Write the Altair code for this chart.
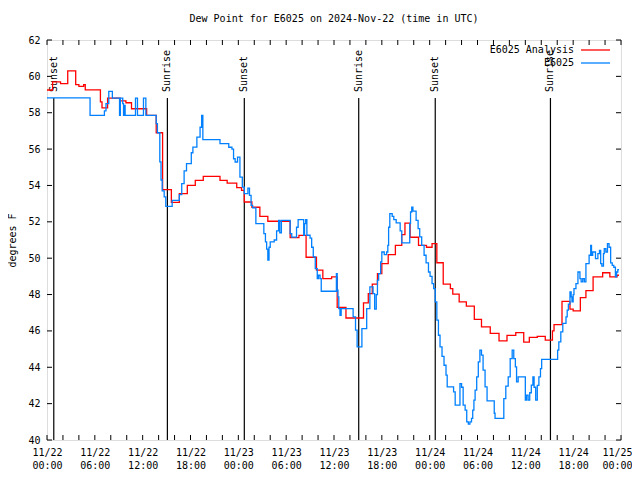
import altair as alt
import pandas as pd

TITLE = "Dew Point for E6025 on 2024-Nov-22 (time in UTC)"
Y_TITLE = "degrees F"
SERIES_NAMES = ["E6025 Analysis", "E6025"]
SERIES_COLORS = ["#ff0000", "#0080ff"]
FONT = "DejaVu Sans Mono"

# Analysis (red), step-after: hours since 2024-11-22 00:00 UTC, degrees F
analysis_hours = [0.0, 0.7, 1.7, 2.6, 3.6, 4.0, 4.6, 4.8, 6.7, 6.9, 7.6, 9.2, 9.9, 10.6,
                  12.5, 13.7, 14.5, 15.6, 16.6, 17.6, 18.6, 19.6, 21.7, 22.6, 23.8, 24.4,
                  24.75, 25.7, 26.7, 27.7, 30.5, 31.6, 32.5, 33.8, 34.6, 35.7, 36.4, 37.5,
                  39.7, 40.3, 40.8, 41.45, 42.0, 42.8, 43.7, 44.5, 44.9, 45.55, 46.6, 47.6,
                  48.3, 48.9, 49.7, 50.6, 50.9, 51.7, 52.6, 53.6, 54.5, 55.6, 56.7, 57.7,
                  58.8, 59.8, 60.5, 61.5, 62.5, 63.4, 63.6, 64.6, 65.6, 66.0, 66.9, 67.6,
                  68.5, 69.7, 70.6, 71.5, 71.75]
analysis_values = [59.25, 59.7, 59.6, 60.3, 59.55, 59.45, 59.55, 59.26, 58.6, 58.27, 58.8, 58.65, 58.55, 58.22,
                   57.85, 56.9, 53.77, 53.07, 53.55, 54.0, 54.28, 54.5, 54.28, 54.13, 53.88, 53.73,
                   53.09, 52.8, 52.3, 52.03, 51.13, 51.25, 50.05, 49.34, 48.88, 48.97, 47.29, 46.71,
                   47.54, 48.05, 48.57, 49.15, 49.7, 50.2, 50.7, 51.3, 51.93, 51.15, 50.7, 50.6,
                   50.8, 49.75, 48.57, 48.33, 48.02, 47.6, 47.36, 46.63, 46.22, 45.86, 45.45, 45.75,
                   45.91, 45.38, 45.64, 45.7, 45.49, 46.0, 46.35, 47.62, 47.2, 47.1, 47.83, 48.22,
                   48.97, 49.2, 48.97, 49.06, 49.06]

# Observed (blue), step-after
obs_hours = [0.0, 5.4, 7.2, 7.4, 7.75, 8.2, 9.1, 9.2, 9.5, 9.6, 9.7, 9.8, 11.1, 11.35, 12.1,
             12.4, 13.7, 13.85, 14.15, 14.3, 14.45, 14.7, 14.9, 15.7, 16.6, 16.9, 17.2, 17.5,
             18.1, 18.3, 18.8, 19.2, 19.4, 19.55, 21.7, 22.8, 23.2, 23.4, 23.6, 23.9, 24.2,
             24.5, 24.75, 25.2, 25.4, 25.6, 25.8, 26.2, 27.2, 27.4, 27.55, 27.7, 27.85, 28.0,
             28.5, 28.8, 29.05, 29.2, 29.4, 30.5, 30.7, 31.3, 31.5, 32.2, 32.3, 32.45, 32.6,
             33.0, 33.2, 33.4, 33.65, 33.9, 34.05, 34.25, 34.4, 36.3, 36.4, 36.5, 36.6, 36.75,
             36.9, 38.4, 38.7, 38.9, 39.5, 40.1, 40.5, 40.9, 41.1, 41.3, 41.45, 41.6, 41.85,
             42.0, 42.3, 42.6, 42.75, 42.85, 43.0, 43.3, 43.5, 43.8, 44.3, 44.5, 45.5, 45.6,
             45.75, 45.9, 46.3, 46.55, 46.75, 47.0, 47.3, 47.55, 47.85, 48.05, 48.3, 48.5,
             48.7, 48.9, 49.1, 49.3, 49.55, 49.8, 50.05, 50.2, 51.0, 51.2, 51.8, 52.0, 52.2,
             52.45, 52.65, 52.85, 53.05, 53.25, 53.4, 53.55, 53.7, 53.9, 54.1, 54.3, 54.5,
             54.7, 54.95, 55.2, 56.1, 56.2, 57.3, 57.55, 57.85, 58.1, 58.35, 58.55, 58.75,
             58.9, 59.1, 60.0, 60.15, 60.35, 60.55, 60.75, 60.95, 61.1, 61.3, 61.5, 61.7,
             61.9, 62.05, 64.05, 64.2, 64.45, 64.7, 65.1, 65.25, 65.4, 65.6, 65.75, 65.85,
             66.0, 66.1, 66.35, 66.6, 66.85, 67.0, 67.2, 67.4, 67.6, 68.0, 68.2, 68.3, 68.45,
             68.8, 69.1, 69.3, 69.45, 69.6, 69.8, 69.9, 70.1, 70.3, 70.5, 70.7, 70.9, 71.1,
             71.3, 71.45, 71.6, 71.75]
obs_values = [58.82, 57.85, 58.1, 58.5, 59.17, 58.8, 57.85, 58.8, 58.5, 57.85, 58.4, 57.85, 58.8, 57.85, 58.8,
              57.85, 57.4, 56.9, 55.3, 54.3, 53.7, 53.37, 52.85, 53.18, 53.5, 54.1, 54.8, 55.2,
              55.8, 56.11, 56.66, 57.2, 57.85, 56.52, 56.3, 56.1, 56.0, 55.47, 55.29, 55.56, 54.46,
              53.91, 53.55, 53.85, 53.45, 52.9, 52.77, 51.9, 51.35, 50.9, 50.5, 49.9, 50.6, 50.9,
              51.0, 51.5, 52.08, 51.4, 52.08, 51.35, 51.16, 51.7, 52.12, 51.26, 51.9, 52.12, 51.26,
              51.1, 50.6, 50.07, 49.43, 48.88, 49.06, 48.88, 48.18, 49.15, 48.24, 47.87, 47.23, 46.86,
              47.23, 46.77, 46.04, 45.12, 46.13, 47.23, 48.42, 48.05, 47.2, 48.0, 48.79, 49.15, 49.79,
              50.34, 50.2, 50.34, 50.7, 51.7, 52.45, 52.3, 52.12, 51.94, 51.5, 50.84, 51.9, 52.54,
              52.8, 52.59, 52.08, 51.63, 51.17, 50.7, 50.16, 49.74, 49.24, 49.0, 48.6, 48.33,
              47.6, 46.59, 45.76, 45.12, 44.6, 44.11, 43.57, 42.92, 42.65, 41.92, 43.1, 42.9, 41.92,
              41.64, 41.0, 40.87, 41.0, 41.19, 41.64, 42.19, 42.74, 43.47, 44.3, 44.94, 44.67,
              43.84, 42.92, 42.15, 41.47, 41.19, 42.28, 42.96, 43.47, 44.48, 44.94, 44.48, 44.02,
              43.2, 43.47, 42.19, 42.47, 42.19, 42.6, 43.02, 43.47, 42.9, 42.19, 43.0, 43.47,
              43.93, 44.43, 44.94, 45.4, 45.95, 46.41, 46.77, 47.14, 47.47, 48.14, 47.87, 47.6,
              48.0, 48.33, 48.6, 49.24, 48.88, 48.7, 48.88, 48.7, 49.7, 50.16, 50.7, 50.16, 50.34,
              49.98, 50.25, 50.43, 49.7, 49.56, 50.25, 50.52, 50.34, 50.8, 50.6, 49.74, 49.6, 49.5,
              48.97, 49.24, 49.37, 49.37]

sun_hours = [0.85, 15.1, 24.75, 39.1, 48.7, 63.15]
sun_labels = ["Sunset", "Sunrise", "Sunset", "Sunrise", "Sunset", "Sunrise"]

y_tick_values = list(range(40, 63, 2))
x_label_hours = list(range(0, 73, 6))
x_tick_hours = list(range(0, 73, 2))

BASE_MS = 1732233600000  # 2024-11-22T00:00:00Z
HOUR_MS = 3600000


def to_ms(h):
    return int(round(BASE_MS + h * HOUR_MS))


W, H = 574, 400
TICK = 5

x_scale = alt.Scale(type="utc", domain=[to_ms(0), to_ms(72)], nice=False)
y_scale = alt.Scale(domain=[40, 62], nice=False, zero=False)

df_a = pd.DataFrame({"t": [to_ms(h) for h in analysis_hours], "v": analysis_values})
df_o = pd.DataFrame({"t": [to_ms(h) for h in obs_hours], "v": obs_values})
df_sun = pd.DataFrame({"t": [to_ms(h) for h in sun_hours], "label": sun_labels})
df_xt = pd.DataFrame({"t": [to_ms(h) for h in x_tick_hours]})
df_yt = pd.DataFrame({"v": y_tick_values})
df_leg = pd.DataFrame({"name": SERIES_NAMES, "color": SERIES_COLORS})

last_label = to_ms(x_label_hours[-1])
x_axis = alt.Axis(
    values=[to_ms(h) for h in x_label_hours],
    labelExpr="[utcFormat(datum.value, '%m/%d'), utcFormat(datum.value, '%H:%M')]",
    ticks=False, domain=False, grid=False, title=None,
    labelFont=FONT, labelFontSize=10, labelColor="black",
    labelPadding=7, labelLineHeight=13, labelOverlap=False, labelFlush=False,
    labelOffset={"condition": {"test": f"datum.value >= {last_label}", "value": -4}, "value": 0},
)
y_axis = alt.Axis(
    values=y_tick_values, ticks=False, domain=False, grid=False,
    title=Y_TITLE, titleFont=FONT, titleFontSize=10, titleFontWeight="normal",
    titleColor="black", titlePadding=10,
    labelFont=FONT, labelFontSize=10, labelColor="black", labelPadding=7,
)

X = alt.X("t:T", scale=x_scale, axis=x_axis)
Y = alt.Y("v:Q", scale=y_scale, axis=y_axis)

line_a = alt.Chart(df_a).mark_line(interpolate="step-after", color=SERIES_COLORS[0], strokeWidth=1.3).encode(
    x=X, y=Y)
line_o = alt.Chart(df_o).mark_line(interpolate="step-after", color=SERIES_COLORS[1], strokeWidth=1.3).encode(
    x=X, y=Y)

sun_rule = alt.Chart(df_sun).mark_rule(color="black", strokeWidth=1.2).encode(
    x=X, y=alt.value(58), y2=alt.value(H))
sun_text = alt.Chart(df_sun).mark_text(
    angle=270, align="left", baseline="middle", font=FONT, fontSize=10, color="black"
).encode(x=X, y=alt.value(52), text="label:N")

xt_bottom = alt.Chart(df_xt).mark_rule(color="black").encode(
    x=X, y=alt.value(H), y2=alt.value(H - TICK))
xt_top = alt.Chart(df_xt).mark_rule(color="black").encode(
    x=X, y=alt.value(0), y2=alt.value(TICK))
yt_left = alt.Chart(df_yt).mark_rule(color="black").encode(
    y=Y, x=alt.value(0), x2=alt.value(TICK))
yt_right = alt.Chart(df_yt).mark_rule(color="black").encode(
    y=Y, x=alt.value(W), x2=alt.value(W - TICK))

leg_layers = []
for i, (name, color) in enumerate(zip(SERIES_NAMES, SERIES_COLORS)):
    d = df_leg.iloc[[i]]
    yy = 10 + 13 * i
    leg_layers.append(alt.Chart(d).mark_text(
        align="right", baseline="middle", font=FONT, fontSize=10, color="black"
    ).encode(x=alt.value(527), y=alt.value(yy), text="name:N"))
    leg_layers.append(alt.Chart(d).mark_rule(color=color, strokeWidth=1.3).encode(
        x=alt.value(534), x2=alt.value(563), y=alt.value(yy)))

chart = alt.layer(
    sun_rule, sun_text, line_a, line_o, xt_bottom, xt_top, yt_left, yt_right, *leg_layers
).properties(
    width=W, height=H,
    title=alt.TitleParams(TITLE, font=FONT, fontSize=10, fontWeight="normal", color="black",
                          anchor="middle", offset=11),
    autosize=alt.AutoSizeParams(type="none"),
    padding={"left": 39, "top": 32, "right": 11, "bottom": 32},
).configure_view(stroke="black", strokeWidth=1).configure(background="white")

chart.save("out.html", embed_options={"renderer": "svg", "actions": False})
